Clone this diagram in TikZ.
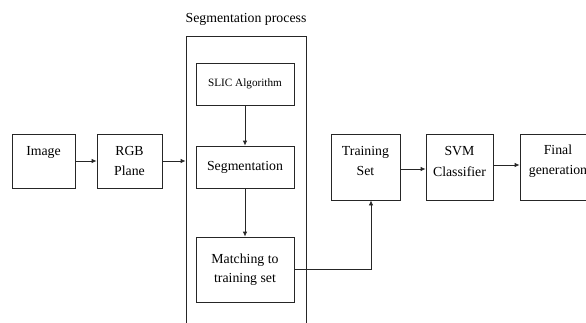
\documentclass[tikz,border=0pt]{standalone}
\usepackage{fontspec}
\setmainfont{Liberation Serif}
\usetikzlibrary{arrows.meta,positioning}
\begin{document}
\begin{tikzpicture}[x=1pt,y=-1pt,
  box/.style={draw=black!85,line width=0.8pt,inner sep=0pt,align=center,
    font=\fontsize{13.8}{19.5}\selectfont},
  txt/.style={inner sep=0pt,align=center,font=\fontsize{13.8}{20.5}\selectfont},
  arr/.style={draw=black!85,line width=0.8pt,-{Latex[length=5pt,width=4.5pt]}},
  lin/.style={draw=black!85,line width=0.8pt}]
\useasboundingbox (0,0) rectangle (586,322);
\clip (0,0) rectangle (586,322);
% left boxes
\node[box,minimum width=63pt,minimum height=54pt] (img) at (43.5,161) {Image\\\mbox{}};
\node[box,minimum width=65pt,minimum height=54pt] (rgb) at (129.5,161) {RGB\\Plane};
% process container
\node[box,minimum width=120pt,minimum height=310pt] (proc) at (246,191) {};
\node[font=\fontsize{13.8}{16}\selectfont,anchor=south] (ptitle) at (246,29) {Segmentation process};
\node[box,minimum width=98pt,minimum height=42pt,font=\fontsize{11.2}{14}\selectfont] (slic) at (245,84) {SLIC Algorithm};
\node[box,minimum width=98pt,minimum height=42pt] (seg) at (245,167) {Segmentation};
\node[box,minimum width=98pt,minimum height=65pt] (match) at (245,269.5) {Matching to\\training set};
% right boxes
\node[box,minimum width=69pt,minimum height=66pt] (train) at (365.5,167) {};
\node[txt] (traint) at (365.5,161) {Training\\Set};
\node[box,minimum width=67pt,minimum height=66pt] (svm) at (459.5,167) {};
\node[txt] (svmt) at (459.5,161.5) {SVM\\Classifier};
\node[box,minimum width=78pt,minimum height=66pt] (final) at (559,167) {};
\node[txt] (finalt) at (558,161) {Final\\generation};
% connectors
\draw[arr] (img) -- (rgb);
\draw[arr] (rgb.east) -- (rgb.east -| proc.west);
\draw[arr] (slic) -- (seg);
\draw[arr] (seg) -- (match);
\draw[arr] (match.east) -| ([xshift=5.5pt]train.south);
\draw[arr] ([yshift=-2pt]train.east) -- ([yshift=-2pt]svm.west);
\draw[arr] ([yshift=2pt]svm.east) -- ([yshift=2pt]final.west);
\end{tikzpicture}
\end{document}
